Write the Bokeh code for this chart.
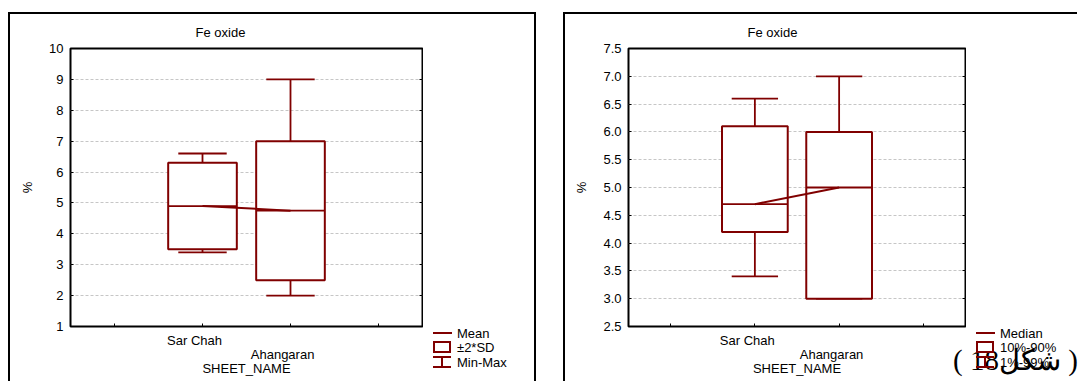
from bokeh.plotting import figure
from bokeh.models import (FixedTicker, NumeralTickFormatter, LinearAxis, Range1d, Spacer, Div)
from bokeh.layouts import row, column
from bokeh.embed import file_html
from bokeh.resources import INLINE

# ---- data -------------------------------------------------------------
categories = ["Sar Chah", "Ahangaran"]
cat_pos = [2, 3]
x_ticks = [1, 2, 3, 4]

# mean plot: mean, box = mean +/- 2*SD, whiskers = min / max
mean_vals = [4.9, 4.75]
sd_vals = [0.7, 1.125]
min_vals = [3.4, 2.0]
max_vals = [6.6, 9.0]
left_y_ticks = [1, 2, 3, 4, 5, 6, 7, 8, 9, 10]

# median plot: median, box = 10%-90%, whiskers = 1%-99%
median_vals = [4.7, 5.0]
p10_vals = [4.2, 3.0]
p90_vals = [6.1, 6.0]
p01_vals = [3.4, 3.0]
p99_vals = [6.6, 7.0]
right_y_ticks = [2.5, 3.0, 3.5, 4.0, 4.5, 5.0, 5.5, 6.0, 6.5, 7.0, 7.5]

left_legend = ["Mean", "\u00b12*SD", "Min-Max"]
right_legend = ["Median", "10%-90%", "1%-99%"]
title_text = "Fe oxide"
x_title = "SHEET_NAME"
y_title = "%"
caption = "( 18\u0634\u0643\u0644 )"

# ---- style ------------------------------------------------------------
RED = "#800000"
FONT = "Liberation Sans"
FS = "13px"
BOX_HALF = 0.39
CAP_HALF = 0.275
LABEL_SHIFT = -0.09      # category names sit slightly left of their tick
H = 367
LINE = "2px solid black"


def border(*sides):
    css = {"box-sizing": "content-box"}
    for s in sides:
        css["border-" + s] = LINE
    return css


def style_axis(ax):
    ax.axis_line_color = None
    ax.major_tick_in = 3
    ax.major_tick_out = 0
    ax.minor_tick_in = 3
    ax.minor_tick_out = 0
    ax.major_tick_line_color = "black"
    ax.minor_tick_line_color = "black"
    ax.major_label_text_font = FONT
    ax.major_label_text_font_size = FS
    ax.major_label_text_color = "black"
    ax.axis_label_text_font = FONT
    ax.axis_label_text_font_size = FS
    ax.axis_label_text_font_style = "normal"
    ax.axis_label_text_color = "black"


def panel(centre, box_lo, box_hi, w_lo, w_hi, y_ticks, y_fmt,
          border_left, frame_w, title_offset, css):
    width = border_left + frame_w + 3
    p = figure(width=width, height=H,
               x_range=Range1d(0.5, 4.5),
               y_range=Range1d(y_ticks[0], y_ticks[-1]),
               output_backend="svg", toolbar_location=None,
               min_border_left=border_left, min_border_right=3,
               min_border_top=34, min_border_bottom=57)
    p.styles = css
    p.background_fill_color = "white"
    p.border_fill_color = "white"
    p.outline_line_color = "black"
    p.outline_line_width = 2

    p.title.text = title_text
    p.title.align = "left"
    p.title.offset = title_offset
    p.title.standoff = 17
    p.title.text_font = FONT
    p.title.text_font_size = FS
    p.title.text_font_style = "normal"
    p.title.text_color = "black"

    # category axis: first name on the upper row, second on a lower row
    lab = [x + LABEL_SHIFT for x in cat_pos]
    xa = p.xaxis[0]
    style_axis(xa)
    xa.ticker = FixedTicker(ticks=[lab[0]], minor_ticks=x_ticks)
    xa.major_tick_line_color = None
    xa.major_label_overrides = {lab[0]: categories[0]}
    xa.major_label_standoff = 6

    xb = LinearAxis(ticker=FixedTicker(ticks=[lab[1]]))
    style_axis(xb)
    xb.major_tick_line_color = None
    xb.minor_tick_line_color = None
    xb.major_label_overrides = {lab[1]: categories[1]}
    xb.major_label_standoff = -4
    xb.axis_label = x_title
    xb.axis_label_standoff = -4
    p.add_layout(xb, "below")

    ya = p.yaxis[0]
    style_axis(ya)
    ya.ticker = FixedTicker(ticks=y_ticks)
    if y_fmt:
        ya.formatter = NumeralTickFormatter(format=y_fmt)
    ya.major_label_standoff = 7
    ya.axis_label = y_title
    ya.axis_label_standoff = 11

    # tick marks on the right edge of the frame
    yr = LinearAxis(ticker=FixedTicker(ticks=y_ticks))
    style_axis(yr)
    yr.major_label_text_font_size = "1px"
    yr.major_label_text_color = None
    yr.major_label_standoff = 0
    p.add_layout(yr, "right")

    p.xgrid.visible = False
    p.ygrid.ticker = FixedTicker(ticks=y_ticks)
    p.ygrid.grid_line_color = "#c6c6c6"
    p.ygrid.grid_line_dash = "3 2"
    p.ygrid.grid_line_width = 1

    # boxes and whiskers
    box_l = [x - BOX_HALF for x in cat_pos]
    box_r = [x + BOX_HALF for x in cat_pos]
    cap_l = [x - CAP_HALF for x in cat_pos]
    cap_r = [x + CAP_HALF for x in cat_pos]
    p.segment(x0=cat_pos, y0=box_hi, x1=cat_pos, y1=w_hi, line_color=RED, line_width=1.8)
    p.segment(x0=cat_pos, y0=w_lo, x1=cat_pos, y1=box_lo, line_color=RED, line_width=1.8)
    p.segment(x0=cap_l, y0=w_hi, x1=cap_r, y1=w_hi, line_color=RED, line_width=1.8)
    p.segment(x0=cap_l, y0=w_lo, x1=cap_r, y1=w_lo, line_color=RED, line_width=1.8)
    p.quad(left=box_l, right=box_r, bottom=box_lo, top=box_hi,
           fill_color="white", line_color=RED, line_width=2)
    p.segment(x0=box_l, y0=centre, x1=box_r, y1=centre, line_color=RED, line_width=1.8)
    p.line(x=cat_pos, y=centre, line_color=RED, line_width=2)
    return p


def block(left, top, w, h, extra=""):
    return (f'<div style="position:absolute;left:{left}px;top:{top}px;width:{w}px;'
            f'height:{h}px;box-sizing:border-box;{extra}"></div>')


def legend_strip(labels, width, css, note=None):
    # legend in the margin to the right of the frame
    parts = []
    if note:
        parts.append(
            '<div style="position:absolute;left:-13px;top:332px;white-space:nowrap;'
            "font-family:'Liberation Serif';font-size:29px;line-height:29px;color:black\">"
            f"{note}</div>")
    parts.append(block(10, 318, 19, 2, f"background:{RED}"))
    parts.append(block(10, 327, 18, 12, f"border:2px solid {RED}"))
    parts.append(block(10, 342, 18, 2, f"background:{RED}"))
    parts.append(block(10, 352, 18, 2, f"background:{RED}"))
    parts.append(block(18, 342, 2, 12, f"background:{RED}"))
    for k, txt in enumerate(labels):
        top = 319 + 14.5 * k - 7.5
        parts.append(
            f'<div style="position:absolute;left:34px;top:{top}px;white-space:nowrap;'
            f"font-family:'{FONT}';font-size:{FS};line-height:15px;color:black\">{txt}</div>")
    html = (f'<div style="position:relative;width:{width}px;height:{H}px;overflow:visible">'
            + "".join(parts) + "</div>")
    css = dict(css, overflow="visible")
    return Div(text=html, width=width, height=H, margin=0, styles=css)


mean_lo = [m - 2 * s for m, s in zip(mean_vals, sd_vals)]
mean_hi = [m + 2 * s for m, s in zip(mean_vals, sd_vals)]

p1 = panel(mean_vals, mean_lo, mean_hi, min_vals, max_vals, left_y_ticks, None,
           border_left=60, frame_w=350, title_offset=125, css=border("left", "top"))
d1 = legend_strip(left_legend, 111, border("top", "right"))

p2 = panel(median_vals, p10_vals, p90_vals, p01_vals, p99_vals, right_y_ticks, "0.0",
           border_left=63, frame_w=335, title_offset=119, css=border("left", "top"))
d2 = legend_strip(right_legend, 111, border("top"), note=caption)

page = column(Spacer(height=12, width=10),
              row(Spacer(width=8, height=10), p1, d1, Spacer(width=27, height=10), p2, d2))

open("out.html", "w").write(file_html(page, INLINE))
